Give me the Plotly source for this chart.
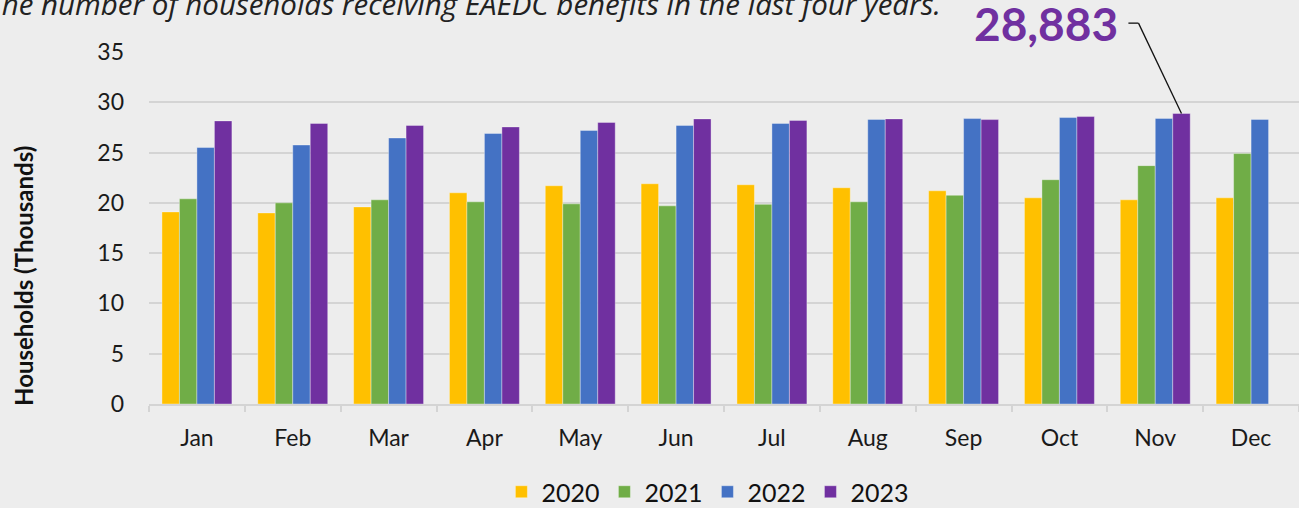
import plotly.graph_objects as go

MONTHS = ["Jan", "Feb", "Mar", "Apr", "May", "Jun", "Jul", "Aug", "Sep", "Oct", "Nov", "Dec"]
Y2020 = [19.1, 19.0, 19.6, 21.0, 21.7, 21.9, 21.8, 21.5, 21.2, 20.5, 20.3, 20.5]
Y2021 = [20.4, 20.0, 20.3, 20.1, 19.9, 19.7, 19.85, 20.1, 20.75, 22.3, 23.7, 24.9]
Y2022 = [25.5, 25.75, 26.45, 26.9, 27.2, 27.7, 27.9, 28.3, 28.38, 28.48, 28.4, 28.3]
Y2023 = [28.15, 27.9, 27.7, 27.55, 28.0, 28.35, 28.2, 28.35, 28.28, 28.58, 28.883, None]
SERIES = [("2020", Y2020, "#FFC000"), ("2021", Y2021, "#70AD47"),
          ("2022", Y2022, "#4472C4"), ("2023", Y2023, "#7030A0")]
TITLE = "The number of households receiving EAEDC benefits in the last four years."
YTITLE = "Households (Thousands)"
CALLOUT_MONTH = "Nov"
CALLOUT_VALUE = 28883

FONT = "Lato"
BG = "#EDEDED"
BARGAP = 0.27
YMAX = 35

fig = go.Figure()
for name, vals, color in SERIES:
    fig.add_trace(go.Bar(
        x=MONTHS, y=vals, name=name,
        marker=dict(color=color, line=dict(color="rgba(255,255,255,0.35)", width=1)),
    ))

fig.update_layout(
    width=1299, height=508,
    margin=dict(l=149, r=0, t=52, b=104, autoexpand=False),
    paper_bgcolor=BG, plot_bgcolor=BG,
    barmode="group", bargap=BARGAP, bargroupgap=0,
    font=dict(family=FONT, color="#1a1a1a", size=22),
    showlegend=True,
    legend=dict(orientation="h", x=0.486, xanchor="center", y=-0.25, yanchor="middle",
                font=dict(size=25, family=FONT, color="#111"), bgcolor="rgba(0,0,0,0)",
                itemclick=False),
)
fig.update_xaxes(
    type="category", showline=True, linecolor="#d4d4d4", linewidth=1.5,
    ticks="outside", tickson="boundaries", ticklen=6, tickcolor="#d4d4d4", tickwidth=1.5,
    tickfont=dict(size=23, family=FONT, color="#1a1a1a"), ticklabelstandoff=13,
    showgrid=False, range=[-0.5, len(MONTHS) - 0.5],
)
fig.update_yaxes(
    range=[0, YMAX], dtick=5, showgrid=True, gridcolor="#d4d4d4", gridwidth=1.5,
    zeroline=False, showline=False, ticks="",
    tickfont=dict(size=23, family=FONT, color="#1a1a1a"), ticklabelstandoff=24,
)

# Title (partially cut off at top, as in reference)
fig.add_annotation(text="<i>" + TITLE + "</i>", xref="paper", yref="paper",
                   x=-0.143, y=1.139, xanchor="left", yanchor="middle", showarrow=False,
                   font=dict(size=29.5, family="Open Sans", color="#222"))

# Y axis title
fig.add_annotation(text="<b>" + YTITLE + "</b>", xref="paper", yref="paper",
                   x=-0.1096, y=0.3636, xanchor="center", yanchor="middle", textangle=-90,
                   showarrow=False, font=dict(size=24, family=FONT, color="#111"))

# Callout
fig.add_annotation(text="<b>" + f"{CALLOUT_VALUE:,}" + "</b>", xref="paper", yref="paper",
                   x=0.8443, y=1.08, xanchor="right", yanchor="middle", showarrow=False,
                   font=dict(size=46, family=FONT, color="#7030A0"))

idx = MONTHS.index(CALLOUT_MONTH)
bar_w = (1 - BARGAP) / len(SERIES)
bar_x = idx + 1.5 * bar_w
elbow_y = 1.082
fig.add_shape(type="line", xref="x", yref="paper", x0=idx - 0.28, x1=idx - 0.175,
              y0=elbow_y, y1=elbow_y, line=dict(color="#111", width=1.3))
fig.add_shape(type="line", xref="x", yref="paper", x0=idx - 0.175, x1=bar_x,
              y0=elbow_y, y1=(CALLOUT_VALUE / 1000) / YMAX, line=dict(color="#111", width=1.3))

fig.write_html("out.html", config={"displayModeBar": False},
               post_script="document.body.style.margin='0';document.body.style.padding='0';")
